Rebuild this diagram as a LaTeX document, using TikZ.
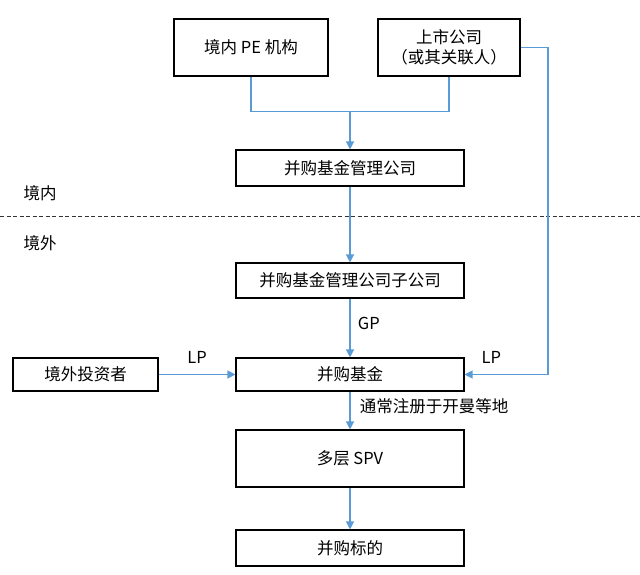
\documentclass[tikz,border=0pt]{standalone}
\usepackage{fontspec}
\setmainfont{Noto Sans CJK SC}
\usepackage{xcolor}
\usepackage{tikz}
\usetikzlibrary{arrows.meta}
\usetikzlibrary{positioning}
\definecolor{linkblue}{HTML}{5B9BD5}

\begin{document}
\begin{tikzpicture}[
	x=1pt,y=-1pt,
	font=\fontsize{16.5}{20}\selectfont
]
\tikzset{
    mybox/.style = {rectangle, draw=black, line width=1.1pt, align=center, fill=white, inner sep=2pt},
    link/.style = {draw=linkblue, line width=1.2pt},
    arr/.style = {link, -{Triangle[length=8pt,width=8pt]}}
}
\useasboundingbox (0,0) rectangle (640,575);
\node[mybox,minimum width=154pt,minimum height=57pt] (pe) at (251,47.5) {境内 PE 机构};
\node[mybox,minimum width=142pt,minimum height=57pt] (ss) at (449,47.5) {上市公司\\（或其关联人）};
\node[mybox,minimum width=228pt,minimum height=36pt] (mgr) at (350,168) {并购基金管理公司};
\node[mybox,minimum width=228pt,minimum height=35pt] (sub) at (350,280.5) {并购基金管理公司子公司};
\node[mybox,minimum width=145pt,minimum height=33pt] (inv) at (85.5,374.5) {境外投资者};
\node[mybox,minimum width=228pt,minimum height=33pt] (fund) at (350,374.5) {并购基金};
\node[mybox,minimum width=228pt,minimum height=57pt] (spv) at (350,458.5) {多层 SPV};
\node[mybox,minimum width=228pt,minimum height=36pt] (tgt) at (350,548) {并购标的};
\node[anchor=west] (dom) at (20,193) {境内};
\node[anchor=west] (abr) at (20,243) {境外};
\draw[black!80, line width=0.9pt, dash pattern=on 4pt off 2.5pt] (0,216) -- (640,216);
\coordinate (j) at (350,111.5);
\coordinate (rc) at (548,374.5);
\draw[link] (pe.south) |- (j) -| (ss.south);
\draw[arr] (j) -- (mgr.north);
\draw[arr] (mgr) -- (sub);
\draw[arr] (sub) -- node[right,pos=0.42,xshift=4pt]{GP} (fund);
\draw[arr] (inv) -- node[above,yshift=7pt]{LP} (fund);
\draw[arr] (ss.east) -| (rc) -- node[above,pos=0.68,yshift=7pt]{LP} (fund.east);
\draw[arr] (fund) -- node[right,pos=0.38,xshift=6pt]{通常注册于开曼等地} (spv);
\draw[arr] (spv) -- (tgt);
\end{tikzpicture}
\end{document}
